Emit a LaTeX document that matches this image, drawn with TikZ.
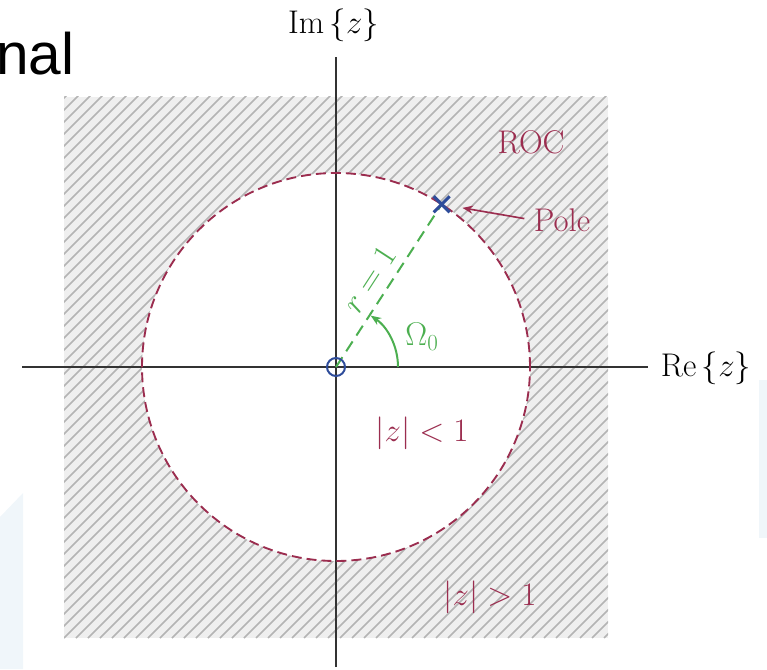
\RequirePackage{fix-cm}
\documentclass[tikz,border=0pt]{standalone}
\usepackage{fontspec}
\newfontfamily\headfont{Liberation Sans}
\usetikzlibrary{calc,arrows.meta}
\definecolor{myred}{HTML}{9B2D4F}
\definecolor{myblue}{HTML}{2E4C9A}
\definecolor{mygreen}{HTML}{4CAF50}
\definecolor{hatchbg}{HTML}{EFEFEF}
\definecolor{hatchln}{HTML}{B4B4B4}
\definecolor{bgblue}{HTML}{F0F6FA}
\definecolor{axiscol}{HTML}{333333}
\tikzset{
  lbl/.style={font=\fontsize{28pt}{33pt}\selectfont, inner sep=1pt},
  redlbl/.style={lbl, text=myred},
  greenlbl/.style={lbl, text=mygreen},
  axisline/.style={draw=axiscol, line width=1.3pt},
  roccircle/.style={draw=myred, line width=1.6pt, dash pattern=on 8.5pt off 4.3pt},
  radline/.style={draw=mygreen, line width=1.7pt, dash pattern=on 10pt off 6pt},
  hatchline/.style={draw=hatchln, line width=1.4pt},
}
\begin{document}
\begin{tikzpicture}[x=0.03cm,y=0.03cm]
\useasboundingbox (0,0) rectangle (767,669);
% faint background shapes
\fill[bgblue] (759,131) rectangle (767,289);
\fill[bgblue] (0,152) -- (23,176) -- (23,0) -- (0,0) -- cycle;
% title fragment
\node[anchor=base west, inner sep=0pt, font=\headfont\fontsize{50pt}{56pt}\selectfont] (title) at (-4,594) {nal};
% hatched ROC square
\coordinate (O) at (336,302);
\begin{scope}
  \clip (64,31) rectangle (608,572);
  \fill[hatchbg] (64,31) rectangle (608,572);
  \foreach \k in {-552,-540,...,552} \draw[hatchline] ({64+\k},31) -- ++(560,560);
\end{scope}
\fill[white] (O) circle (194);
% axes
\coordinate (xl) at (22,302);
\coordinate (xr) at (648,302);
\coordinate (yt) at (336,612);
\coordinate (yb) at (336,2);
\draw[axisline] (xl) -- (xr);
\draw[axisline] (yb) -- (yt);
\node[lbl, text=black] (re) at (706,301) {$\mathrm{Re}\,\{z\}$};
\node[lbl, text=black] (im) at (333.5,644) {$\mathrm{Im}\,\{z\}$};
% unit circle
\draw[roccircle] (O) circle (194);
% pole and radius
\coordinate (P) at ($(O)+(57:194)$);
\draw[radline] (O) -- node[greenlbl, pos=0.47, sloped, above=6pt] (rlbl) {$r=1$} (P);
\draw[draw=mygreen, line width=1.7pt, -{Stealth[length=9pt,width=7pt]}] ($(O)+(62,0)$) arc[start angle=0, end angle=56, radius=62];
\node[greenlbl] (omega) at (422,332) {$\Omega_0$};
\draw[myblue, line width=2.6pt] ($(P)+(-8,-8)$) -- ($(P)+(8,8)$);
\draw[myblue, line width=2.6pt] ($(P)+(-8,8)$) -- ($(P)+(8,-8)$);
\draw[myblue, line width=1.7pt] (O) circle (9);
% labels
\node[redlbl] (roc) at (531,526.5) {ROC};
\node[redlbl] (poletxt) at (562,449) {Pole};
\draw[draw=myred, line width=1.4pt, -{Stealth[length=9pt,width=7pt]}, shorten <=7pt, shorten >=18pt] (poletxt.west) -- (P);
\node[redlbl] (inside) at (422,236) {$|z|<1$};
\node[redlbl] (outside) at (490,72) {$|z|>1$};
\end{tikzpicture}
\end{document}
